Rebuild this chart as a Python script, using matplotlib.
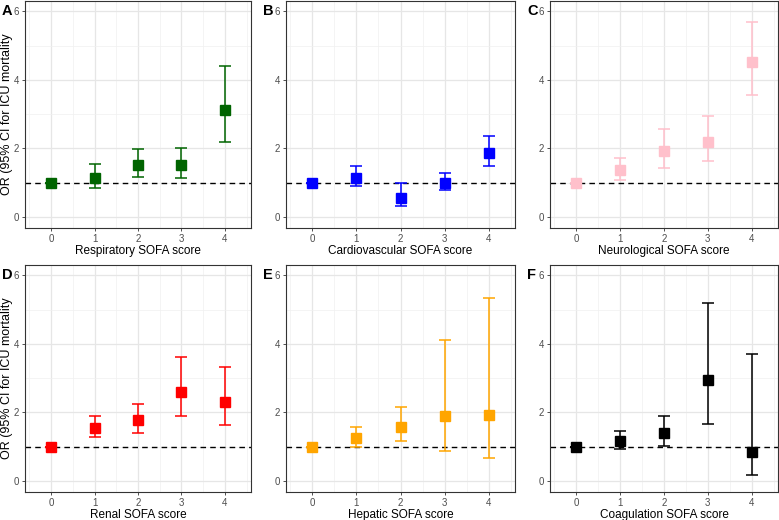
import numpy as np
import matplotlib.pyplot as plt
from matplotlib.ticker import MultipleLocator

plt.rcParams['font.family'] = ['Liberation Sans', 'DejaVu Sans']

# SOFA score levels
scores = [0, 1, 2, 3, 4]

# OR, lower CI, upper CI per organ system
resp_or = [1.00, 1.15, 1.52, 1.52, 3.12]
resp_lo = [1.00, 0.86, 1.17, 1.13, 2.19]
resp_hi = [1.00, 1.54, 1.98, 2.01, 4.39]

cardio_or = [1.00, 1.15, 0.56, 1.00, 1.88]
cardio_lo = [1.00, 0.91, 0.32, 0.78, 1.50]
cardio_hi = [1.00, 1.48, 0.99, 1.29, 2.36]

neuro_or = [1.00, 1.37, 1.92, 2.19, 4.51]
neuro_lo = [1.00, 1.09, 1.42, 1.63, 3.56]
neuro_hi = [1.00, 1.71, 2.57, 2.94, 5.69]

renal_or = [1.00, 1.55, 1.79, 2.61, 2.31]
renal_lo = [1.00, 1.27, 1.41, 1.90, 1.62]
renal_hi = [1.00, 1.90, 2.26, 3.62, 3.32]

hep_or = [1.00, 1.25, 1.59, 1.89, 1.92]
hep_lo = [1.00, 0.98, 1.17, 0.87, 0.68]
hep_hi = [1.00, 1.58, 2.15, 4.10, 5.35]

coag_or = [1.00, 1.18, 1.39, 2.94, 0.84]
coag_lo = [1.00, 0.94, 1.03, 1.67, 0.19]
coag_hi = [1.00, 1.45, 1.90, 5.19, 3.71]

panels = [
    ('A', 'Respiratory SOFA score', resp_or, resp_lo, resp_hi, '#006400'),
    ('B', 'Cardiovascular SOFA score', cardio_or, cardio_lo, cardio_hi, '#0000FF'),
    ('C', 'Neurological SOFA score', neuro_or, neuro_lo, neuro_hi, '#FFC0CB'),
    ('D', 'Renal SOFA score', renal_or, renal_lo, renal_hi, '#FF0000'),
    ('E', 'Hepatic SOFA score', hep_or, hep_lo, hep_hi, '#FFA500'),
    ('F', 'Coagulation SOFA score', coag_or, coag_lo, coag_hi, '#000000'),
]

W, H = 779, 520
fig = plt.figure(figsize=(W / 100, H / 100), dpi=100)

# axes boxes in pixels: left, right ; top, bottom
cols = [(25, 251), (286, 515), (550, 778)]
rows = [(1, 228), (265, 492)]

for i, (letter, xlabel, orv, lo, hi, col) in enumerate(panels):
    r, c = divmod(i, 3)
    x0, x1 = cols[c]
    y0, y1 = rows[r]
    ax = fig.add_axes([x0 / W, 1 - y1 / H, (x1 - x0) / W, (y1 - y0) / H])

    orv = np.array(orv)
    yerr = [orv - np.array(lo), np.array(hi) - orv]
    ax.errorbar(scores, orv, yerr=yerr, fmt='none', ecolor=col,
                elinewidth=1.1, capsize=4, capthick=1.1, zorder=3)
    ax.plot(scores, orv, 's', color=col, markersize=7.8, zorder=4)
    ax.axhline(1, color='black', linestyle=(0, (4, 3)), linewidth=1, zorder=2)

    ax.set_xlim(-0.6, 4.6)
    ax.set_ylim(-0.32, 6.3)
    ax.set_xticks(scores)
    ax.yaxis.set_major_locator(MultipleLocator(2))
    ax.yaxis.set_minor_locator(MultipleLocator(1))
    ax.xaxis.set_minor_locator(MultipleLocator(0.5))
    ax.grid(which='major', color='#E6E6E6', linewidth=0.9)
    ax.grid(which='minor', color='#F0F0F0', linewidth=0.5)
    ax.set_axisbelow(True)
    ax.tick_params(which='major', length=2.5, width=0.6, color='#333333',
                   labelsize=7, labelcolor='#4D4D4D', pad=2)
    ax.tick_params(which='minor', length=0)
    for s in ax.spines.values():
        s.set_color('#333333')
        s.set_linewidth(0.8)

    ax.set_xlabel(xlabel, fontsize=8.5, labelpad=0.5)
    if c == 0:
        fig.text(7.5 / W, 1 - ((y0 + y1) / 2) / H, 'OR (95% CI for ICU mortality',
                 fontsize=9, rotation=90, ha='center', va='center')

    fig.text((x0 - 23) / W, 1 - (y0 + 14) / H, letter, fontsize=10.5,
             fontweight='bold', ha='left', va='baseline')

fig.savefig('out.png', dpi=100)
